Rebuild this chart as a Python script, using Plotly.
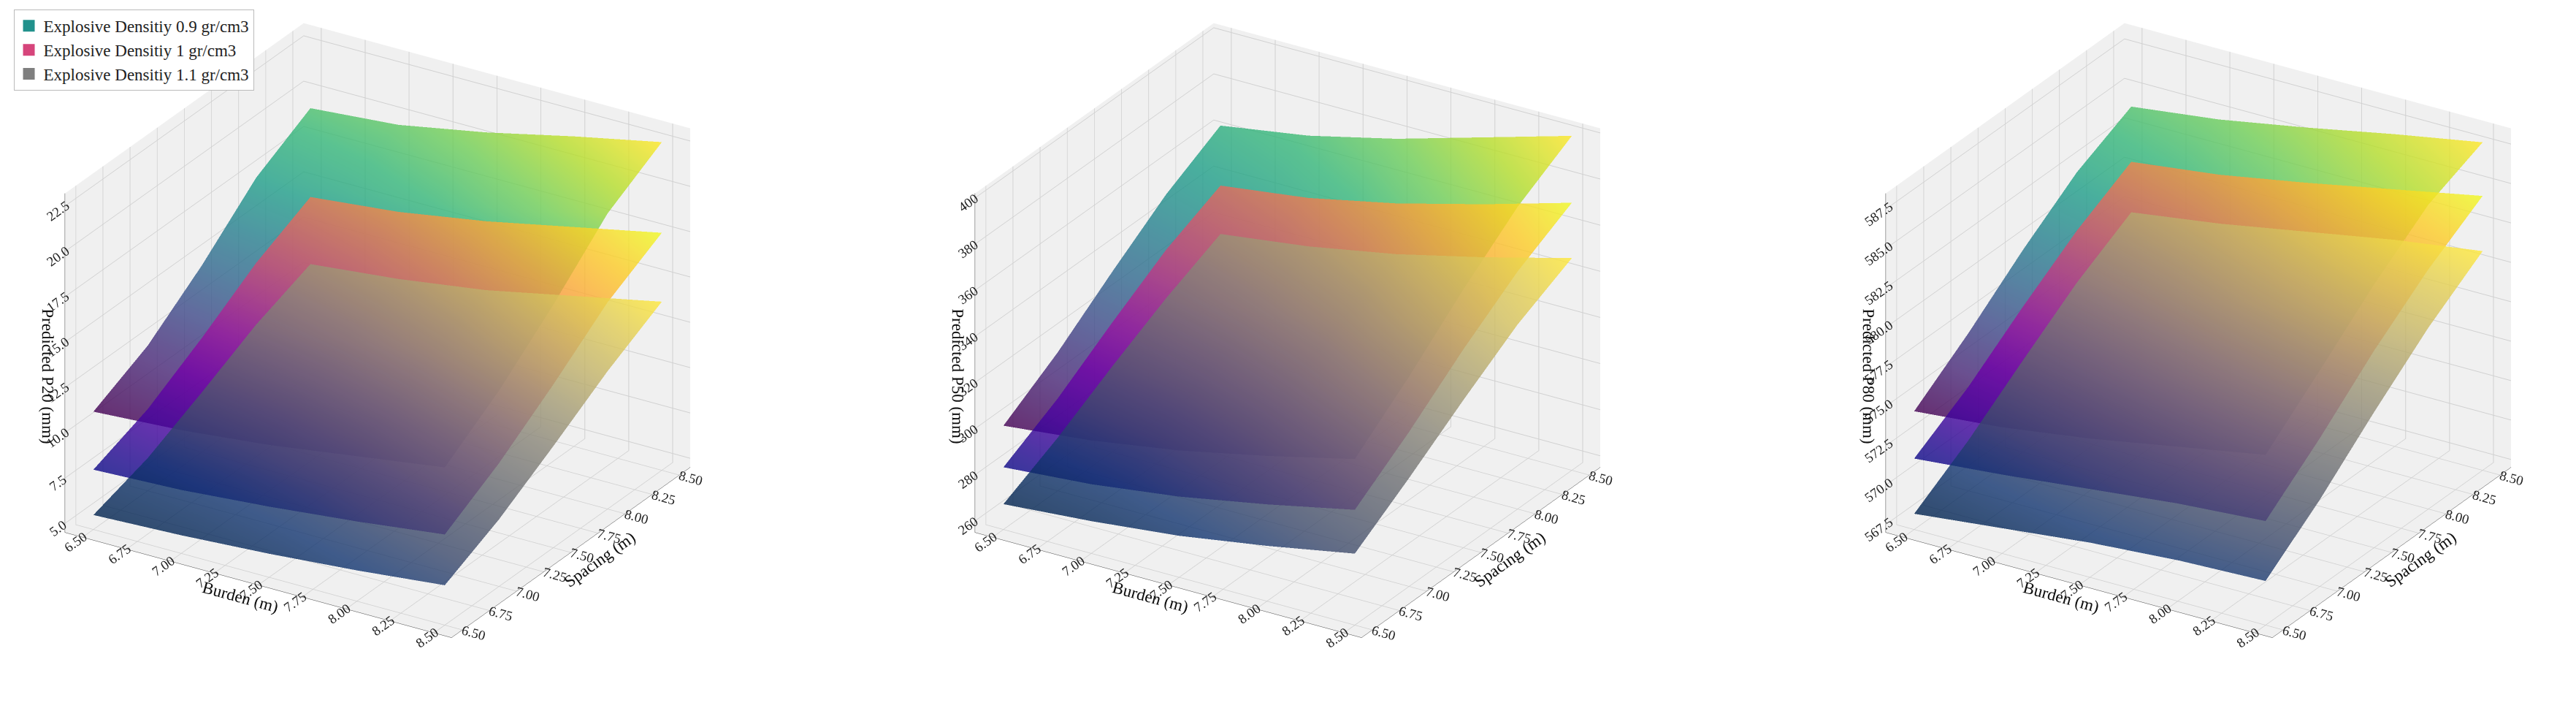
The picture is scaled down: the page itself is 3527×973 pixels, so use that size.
import plotly.graph_objects as go

burden = [6.5, 7.0, 7.5, 8.0, 8.5]
spacing = [6.5, 7.0, 7.5, 8.0, 8.5]
densities = ["Explosive Densitiy 0.9 gr/cm3", "Explosive Densitiy 1 gr/cm3", "Explosive Densitiy 1.1 gr/cm3"]
legend_colors = ["#21918c", "#d6457b", "#7f7f7f"]
colorscales = ["Viridis", "Plasma", "Cividis"]

# rows = spacing, columns = burden
p20_09 = [[11.0, 11.3, 11.8, 12.5, 13.2], [12.5, 13.0, 13.6, 14.4, 15.3], [14.8, 15.3, 16.0, 16.9, 17.9],
          [17.5, 18.0, 18.7, 19.7, 20.8], [19.2, 19.6, 20.5, 21.6, 22.6]]
p20_10 = [[7.8, 8.0, 8.4, 8.9, 9.5], [9.0, 9.4, 9.9, 10.6, 11.3], [10.8, 11.2, 11.8, 12.6, 13.5],
          [12.8, 13.3, 14.0, 14.9, 15.9], [14.3, 14.8, 15.6, 16.6, 17.6]]
p20_11 = [[5.3, 5.5, 5.8, 6.2, 6.7], [6.3, 6.6, 7.0, 7.6, 8.2], [7.8, 8.1, 8.6, 9.3, 10.1],
          [9.4, 9.8, 10.4, 11.2, 12.1], [10.6, 11.1, 11.8, 12.8, 13.8]]

p50_09 = [[300, 304, 310, 318, 327], [315, 320, 327, 336, 346], [333, 338, 346, 356, 367],
          [350, 356, 364, 375, 386], [363, 369, 378, 389, 400]]
p50_10 = [[282, 285, 290, 297, 305], [295, 299, 305, 313, 322], [311, 315, 322, 331, 341],
          [326, 331, 338, 348, 358], [337, 342, 350, 360, 371]]
p50_11 = [[266, 269, 273, 279, 286], [278, 281, 287, 294, 302], [292, 296, 302, 310, 319],
          [305, 310, 316, 325, 335], [316, 321, 328, 337, 347]]

p80_09 = [[574.5, 575.0, 575.8, 576.8, 577.8], [577.0, 577.6, 578.5, 579.6, 580.7],
          [579.8, 580.5, 581.4, 582.6, 583.7], [582.3, 583.0, 584.0, 585.2, 586.3],
          [584.0, 584.7, 585.7, 586.8, 587.8]]
p80_10 = [[571.5, 572.0, 572.6, 573.2, 573.6], [573.6, 574.2, 575.0, 575.8, 576.4],
          [576.2, 576.9, 577.8, 578.7, 579.5], [578.6, 579.3, 580.3, 581.3, 582.2],
          [580.5, 581.2, 582.2, 583.3, 584.4]]
p80_11 = [[568.0, 568.6, 569.2, 569.6, 569.8], [570.2, 570.9, 571.6, 572.2, 572.5],
          [572.8, 573.6, 574.4, 575.1, 575.6], [575.3, 576.1, 577.0, 577.8, 578.5],
          [577.3, 578.1, 579.1, 580.1, 580.9]]

panels = [
    ("Predicted P20 (mm)", [p20_09, p20_10, p20_11], [4.5, 23.2], 2.5, ".1f"),
    ("Predicted P50 (mm)", [p50_09, p50_10, p50_11], [255, 402], 20, "d"),
    ("Predicted P80 (mm)", [p80_09, p80_10, p80_11], [567, 588.5], 2.5, ".1f"),
]
domains = [[0.0, 0.29], [0.355, 0.645], [0.71, 1.0]]
font = "Liberation Serif"

fig = go.Figure()
for k, (title, grids, zr, dz, zfmt) in enumerate(panels):
    scene = "scene" if k == 0 else f"scene{k + 1}"
    for grid, cs in zip(grids, colorscales):
        fig.add_trace(go.Surface(x=burden, y=spacing, z=grid, colorscale=cs, opacity=0.8,
                                 showscale=False, scene=scene, hoverinfo="skip"))
    ax = dict(backgroundcolor="#f0f0f0", showbackground=True, gridcolor="#d0d0d0",
              tickfont=dict(family=font, size=15, color="#222"), linecolor="#444")
    fig.update_layout(**{scene: dict(
        domain=dict(x=domains[k], y=[0, 1]),
        xaxis=dict(ax, title=dict(text="Burden (m)", font=dict(family=font, size=23, color="#111")),
                   range=[6.4, 8.6], dtick=0.25, tickformat=".2f"),
        yaxis=dict(ax, title=dict(text="Spacing (m)", font=dict(family=font, size=23, color="#111")),
                   range=[6.4, 8.6], dtick=0.25, tickformat=".2f"),
        zaxis=dict(ax, title=dict(text=title, font=dict(family=font, size=23, color="#111")),
                   range=zr, dtick=dz, tickformat=zfmt),
        aspectmode="manual", aspectratio=dict(x=1.3, y=1.3, z=1.08),
        camera=dict(eye=dict(x=1.05, y=-1.7, z=0.9), center=dict(x=0, y=0, z=-0.08),
                    projection=dict(type="orthographic")),
    )})

for name, col in zip(densities, legend_colors):
    fig.add_trace(go.Scatter3d(x=[None], y=[None], z=[None], mode="markers", name=name,
                               marker=dict(symbol="square", size=18, color=col), scene="scene"))

fig.update_layout(
    paper_bgcolor="white",
    margin=dict(l=0, r=0, t=0, b=0),
    legend=dict(x=0.003, y=0.995, xanchor="left", yanchor="top", bordercolor="#bbb", borderwidth=1,
                bgcolor="white", font=dict(family=font, size=23, color="#222"), tracegroupgap=4),
)
fig.write_html("out.html")
